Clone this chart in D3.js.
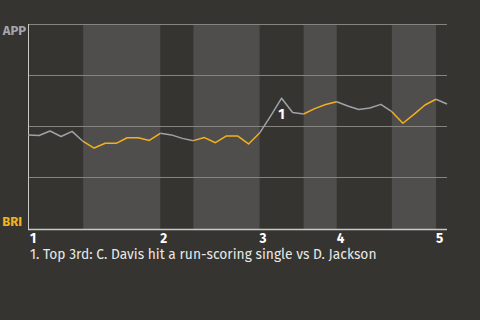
<!DOCTYPE html>
<html><head><meta charset="utf-8">
<script src="https://cdn.jsdelivr.net/npm/d3@7"></script>
<style>
html,body{margin:0;padding:0;background:#353430;}
svg{display:block;}
text{font-family:"Fira Sans","Noto Sans","Open Sans",sans-serif;}
</style></head>
<body>
<script>
// APP win probability (%) after each plate appearance
const winProb = [45.9,45.6,47.8,45.1,47.6,42.7,39.5,41.8,41.8,44.5,44.5,43.2,46.7,45.9,44.2,43.1,44.6,42.1,45.4,45.4,41.5,46.8,55.1,63.8,56.8,56.1,58.7,60.7,62.1,60.0,58.3,59.0,60.8,57.2,51.6,55.9,60.5,63.3,61.0];
// plate appearances in each half-inning (top 1, bottom 1, top 2, ...)
const halfInningPAs = [5,7,3,6,4,3,5,4,1];
const inningLabels = ["1","2","3","4","5"];
const teams = ["APP","BRI"];
const gridValues = [25,50,75,100];
const annotations = [{index:23, label:"1", text:"1. Top 3rd: C. Davis hit a run-scoring single vs D. Jackson"}];

const W=480,H=320;
const m={l:28,r:33,t:24,b:91};
const svg=d3.select("body").append("svg").attr("width",W).attr("height",H);
const nIntervals = winProb.length-1;
const x=d3.scaleLinear().domain([0,nIntervals]).range([m.l,W-m.r]);
const y=d3.scaleLinear().domain([0,100]).range([H-m.b,m.t]);

// half inning ranges
const halves=[];let s=0;
halfInningPAs.forEach((n,i)=>{halves.push({start:s,end:Math.min(s+n,nIntervals),top:i%2===0,inning:Math.floor(i/2)});s+=n;});

svg.append("g").selectAll("rect").data(halves.filter(h=>!h.top)).join("rect")
 .attr("x",d=>x(d.start)).attr("width",d=>x(d.end)-x(d.start))
 .attr("y",y(100)).attr("height",y(0)-y(100)).attr("fill","#4f4e4c");

// grid
svg.append("g").selectAll("line").data(gridValues).join("line")
 .attr("x1",x(0)).attr("x2",x(nIntervals)).attr("y1",d=>y(d)).attr("y2",d=>y(d))
 .attr("stroke","#85847f").attr("stroke-width",1).attr("shape-rendering","crispEdges");

// axes
svg.append("line").attr("x1",x(0)).attr("x2",x(0)).attr("y1",y(100)).attr("y2",y(0)+1)
 .attr("stroke","#c9c9c6").attr("shape-rendering","crispEdges");
svg.append("line").attr("x1",x(0)).attr("x2",x(nIntervals)).attr("y1",y(0)+0.5).attr("y2",y(0)+0.5)
 .attr("stroke","#c9c9c6").attr("stroke-width",1.5);

// inning tick labels
svg.append("g").selectAll("text").data(halves.filter(h=>h.top)).join("text")
 .attr("x",(d,i)=>x(d.start)+(i===0?2:0)).attr("y",y(0)+13.5)
 .attr("fill","#ffffff").attr("font-size",13.5).attr("font-weight","bold")
 .text(d=>inningLabels[d.inning]);

// team labels
svg.append("text").attr("x",m.l-2).attr("y",y(100)+11).attr("text-anchor","end")
 .attr("fill","#a3a7ab").attr("font-size",13).attr("font-weight","bold").text(teams[0]);
svg.append("text").attr("x",m.l-6).attr("y",y(0)-3).attr("text-anchor","end")
 .attr("fill","#f6b21b").attr("font-size",13).attr("font-weight","bold").text(teams[1]);

// line segments colored by half inning
const line=d3.line().x(d=>x(d.i)).y(d=>y(d.v));
halves.forEach(h=>{
  const pts=d3.range(h.start,h.end+1).map(i=>({i,v:winProb[i]}));
  svg.append("path").attr("d",line(pts)).attr("fill","none")
   .attr("stroke",h.top?"#9ea3a8":"#f4b01c").attr("stroke-width",1.5)
   .attr("stroke-linejoin","round");
});

// annotations
annotations.forEach((a,k)=>{
  svg.append("text").attr("x",x(a.index)).attr("y",y(winProb[a.index])+21).attr("text-anchor","middle")
   .attr("fill","#ffffff").attr("font-size",14).attr("font-weight","bold").text(a.label);
  svg.append("text").attr("x",m.l+2).attr("y",y(0)+29.5+k*15).attr("fill","#e8e8e6")
   .attr("font-size",13.8).text(a.text);
});
</script>
</body></html>
